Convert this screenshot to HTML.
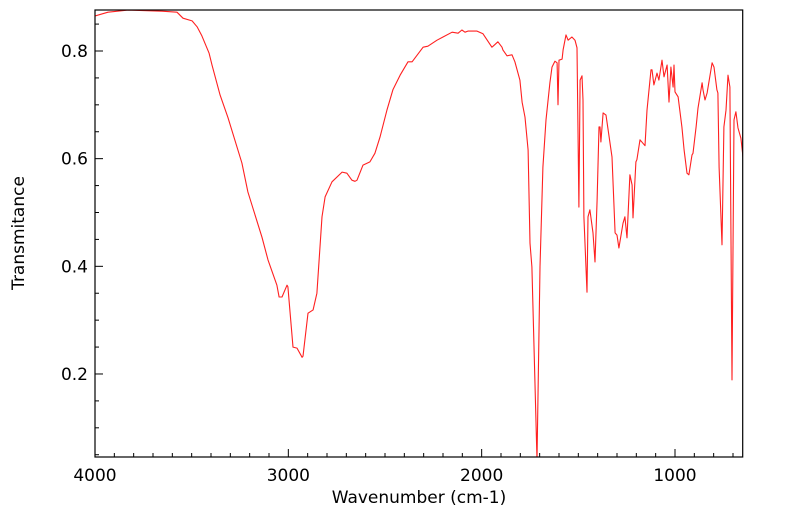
<!DOCTYPE html>
<html><head><meta charset="utf-8"><style>
html,body{margin:0;padding:0;background:#fff;width:799px;height:516px;overflow:hidden}
svg text{font-family:"DejaVu Sans","Liberation Sans",sans-serif;fill:#000}
</style></head><body>
<svg id="chart" width="799" height="516">
<defs><clipPath id="plotclip"><rect x="95" y="10" width="648" height="447"/></clipPath></defs>
<g id="axes"></g>
<path id="spectrum" clip-path="url(#plotclip)" fill="none" stroke="#ff2020" stroke-width="1.1" stroke-linejoin="round"/>
<rect x="95" y="10" width="647.7" height="447" fill="none" stroke="#000" stroke-width="1.2"/>
<text x="419" y="503" font-size="17" text-anchor="middle">Wavenumber (cm-1)</text>
<text x="24" y="233" font-size="17" text-anchor="middle" transform="rotate(-90 24 233)">Transmitance</text>
</svg>
<script>
const wavenumbers=[4000,3933,3829,3653,3576,3545,3498,3472,3447,3410,3395,3353,3312,3240,3209,3136,3105,3059,3048,3033,3007,3002,2976,2955,2929,2924,2898,2872,2852,2826,2810,2774,2722,2697,2671,2655,2645,2614,2578,2552,2526,2490,2459,2422,2381,2360,2303,2278,2231,2200,2153,2122,2102,2086,2071,2024,1993,1947,1941,1916,1895,1890,1869,1843,1828,1802,1791,1776,1760,1750,1740,1714,1698,1683,1667,1647,1636,1621,1610,1605,1600,1584,1579,1564,1553,1533,1517,1507,1497,1491,1481,1476,1471,1455,1450,1440,1424,1414,1403,1393,1388,1383,1372,1357,1336,1326,1310,1300,1290,1269,1259,1248,1233,1222,1217,1202,1197,1181,1155,1145,1124,1119,1109,1093,1083,1067,1057,1041,1031,1021,1010,1005,1000,984,964,953,938,928,912,907,891,881,860,855,845,834,808,798,783,778,772,757,747,736,726,716,705,695,685,674,659,648];
const transmittance=[0.865,0.872,0.876,0.874,0.872,0.861,0.856,0.845,0.828,0.796,0.774,0.718,0.676,0.592,0.538,0.454,0.412,0.365,0.343,0.343,0.365,0.362,0.250,0.248,0.231,0.233,0.313,0.319,0.350,0.492,0.529,0.557,0.575,0.573,0.560,0.558,0.560,0.588,0.594,0.610,0.640,0.690,0.728,0.755,0.780,0.780,0.807,0.809,0.820,0.826,0.835,0.833,0.839,0.835,0.837,0.837,0.832,0.807,0.809,0.817,0.807,0.802,0.791,0.793,0.780,0.746,0.705,0.677,0.616,0.443,0.399,0.040,0.399,0.584,0.672,0.741,0.770,0.781,0.778,0.700,0.783,0.785,0.802,0.830,0.820,0.826,0.820,0.806,0.510,0.746,0.754,0.709,0.492,0.352,0.492,0.505,0.462,0.408,0.523,0.659,0.659,0.631,0.685,0.681,0.629,0.603,0.462,0.458,0.434,0.480,0.492,0.453,0.570,0.551,0.490,0.594,0.598,0.635,0.624,0.690,0.765,0.765,0.737,0.759,0.746,0.783,0.752,0.774,0.705,0.770,0.733,0.774,0.724,0.715,0.659,0.616,0.573,0.570,0.607,0.610,0.659,0.694,0.741,0.728,0.709,0.722,0.778,0.770,0.728,0.722,0.584,0.440,0.659,0.690,0.755,0.733,0.189,0.672,0.687,0.657,0.638,0.603];
const xTickLabels=["4000","3000","2000","1000"];
const yTickLabels=["0.2","0.4","0.6","0.8"];
const xScale=w=>95+(4000-w)*0.19333;
const yScale=t=>51+(0.8-t)*538.3;
const NS="http://www.w3.org/2000/svg";
const axes=document.getElementById('axes');
function mk(tag,attrs){const e=document.createElementNS(NS,tag);for(const k in attrs)e.setAttribute(k,attrs[k]);axes.appendChild(e);return e;}
for(let w=4000;w>=700;w-=100){
  const x=xScale(w);const major=(w%1000===0);
  const t=mk('line',{x1:x,x2:x,y1:457,y2:457-(major?8:4),stroke:'#000','stroke-width':1});
  
  
}
xTickLabels.forEach(s=>{
  const t=mk('text',{x:xScale(+s),y:481,'font-size':17,'text-anchor':'middle'});
  t.textContent=s;
  
  
});
for(let i=1;i<=17;i++){
  const v=i*0.05;const y=yScale(v);if(y<10||y>457)continue;
  const major=(i%4===0);
  const t=mk('line',{x1:95,x2:95+(major?8:4),y1:y,y2:y,stroke:'#000','stroke-width':1});
  
  
}
yTickLabels.forEach(s=>{
  const t=mk('text',{x:88,y:yScale(+s)+6,'font-size':17,'text-anchor':'end'});
  t.textContent=s;
  
  
});
let d='';
wavenumbers.forEach((w,i)=>{d+=(i?'L':'M')+xScale(w).toFixed(1)+','+yScale(transmittance[i]).toFixed(1);});
document.getElementById('spectrum').setAttribute('d',d);
</script>
</body></html>
